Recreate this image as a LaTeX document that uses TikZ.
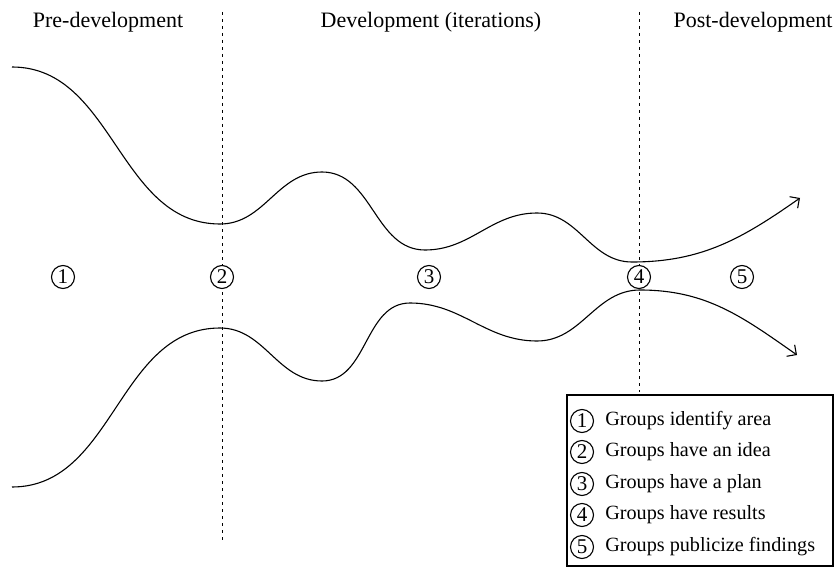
\documentclass[tikz,border=0pt]{standalone}
\usepackage{fontspec}
\setmainfont{Liberation Serif}
\usetikzlibrary{arrows.meta, positioning}
\tikzstyle{stage} = [circle,
	draw=black,
	inner sep=0pt,
	minimum size=11.5pt,
	font=\fontsize{10.5}{12}\selectfont
	]
\tikzstyle{phase} = [font=\fontsize{11}{13}\selectfont]
\tikzstyle{border} = [line width=0.4pt, dash pattern=on 1.5pt off 2pt]
\tikzstyle{flow} = [-{Straight Barb[length=3.5pt, width=7pt]}]
\tikzstyle{key} = [anchor=west, font=\fontsize{10.1}{12}\selectfont]

\begin{document}
\begin{tikzpicture}[x=0.5pt, y=-0.5pt, line width=0.55pt]
\useasboundingbox (0,0) rectangle (835,567);

% phases
\node (pre) [phase] at (108,22) {Pre-development};
\node (dev) [phase] at (431,22) {Development (iterations)};
\node (post) [phase, anchor=east, inner xsep=0pt] at (833,22) {Post-development};

\draw [border] (222,12) -- (222,540);
\draw [border] (639,12) -- (639,392);

% upper and lower curves
\draw [flow] (12,67) to[out=0,in=180] (220,224)
	to[out=0,in=180] (322,172)
	to[out=0,in=180] (425,250)
	to[out=0,in=180] (537,213)
	to[out=0,in=180] (632,262)
	to[out=0,in=215] (800,198);
\draw [flow] (12,487) to[out=0,in=180] (220,328)
	to[out=0,in=180] (322,381)
	to[out=0,in=180] (410,303)
	to[out=0,in=180] (537,341)
	to[out=0,in=180] (640,290)
	to[out=0,in=145] (797,355);

% stages
\node (s1) [stage, fill=white] at (63,277) {1};
\node (s2) [stage, fill=white] at (222,277) {2};
\node (s3) [stage, fill=white] at (429,277) {3};
\node (s4) [stage, fill=white] at (639,277) {4};
\node (s5) [stage, fill=white] at (742,277) {5};

% legend
\draw [fill=white] (567,395) rectangle (833,566);
\node (k1) [stage] at (582,421) {1};
\node (k2) [stage] at (582,452) {2};
\node (k3) [stage] at (582,484) {3};
\node (k4) [stage] at (582,515) {4};
\node (k5) [stage] at (582,547) {5};
\node (t1) [key, right=2pt of k1] {Groups identify area};
\node (t2) [key, right=2pt of k2] {Groups have an idea};
\node (t3) [key, right=2pt of k3] {Groups have a plan};
\node (t4) [key, right=2pt of k4] {Groups have results};
\node (t5) [key, right=2pt of k5] {Groups publicize findings};

\end{tikzpicture}
\end{document}
